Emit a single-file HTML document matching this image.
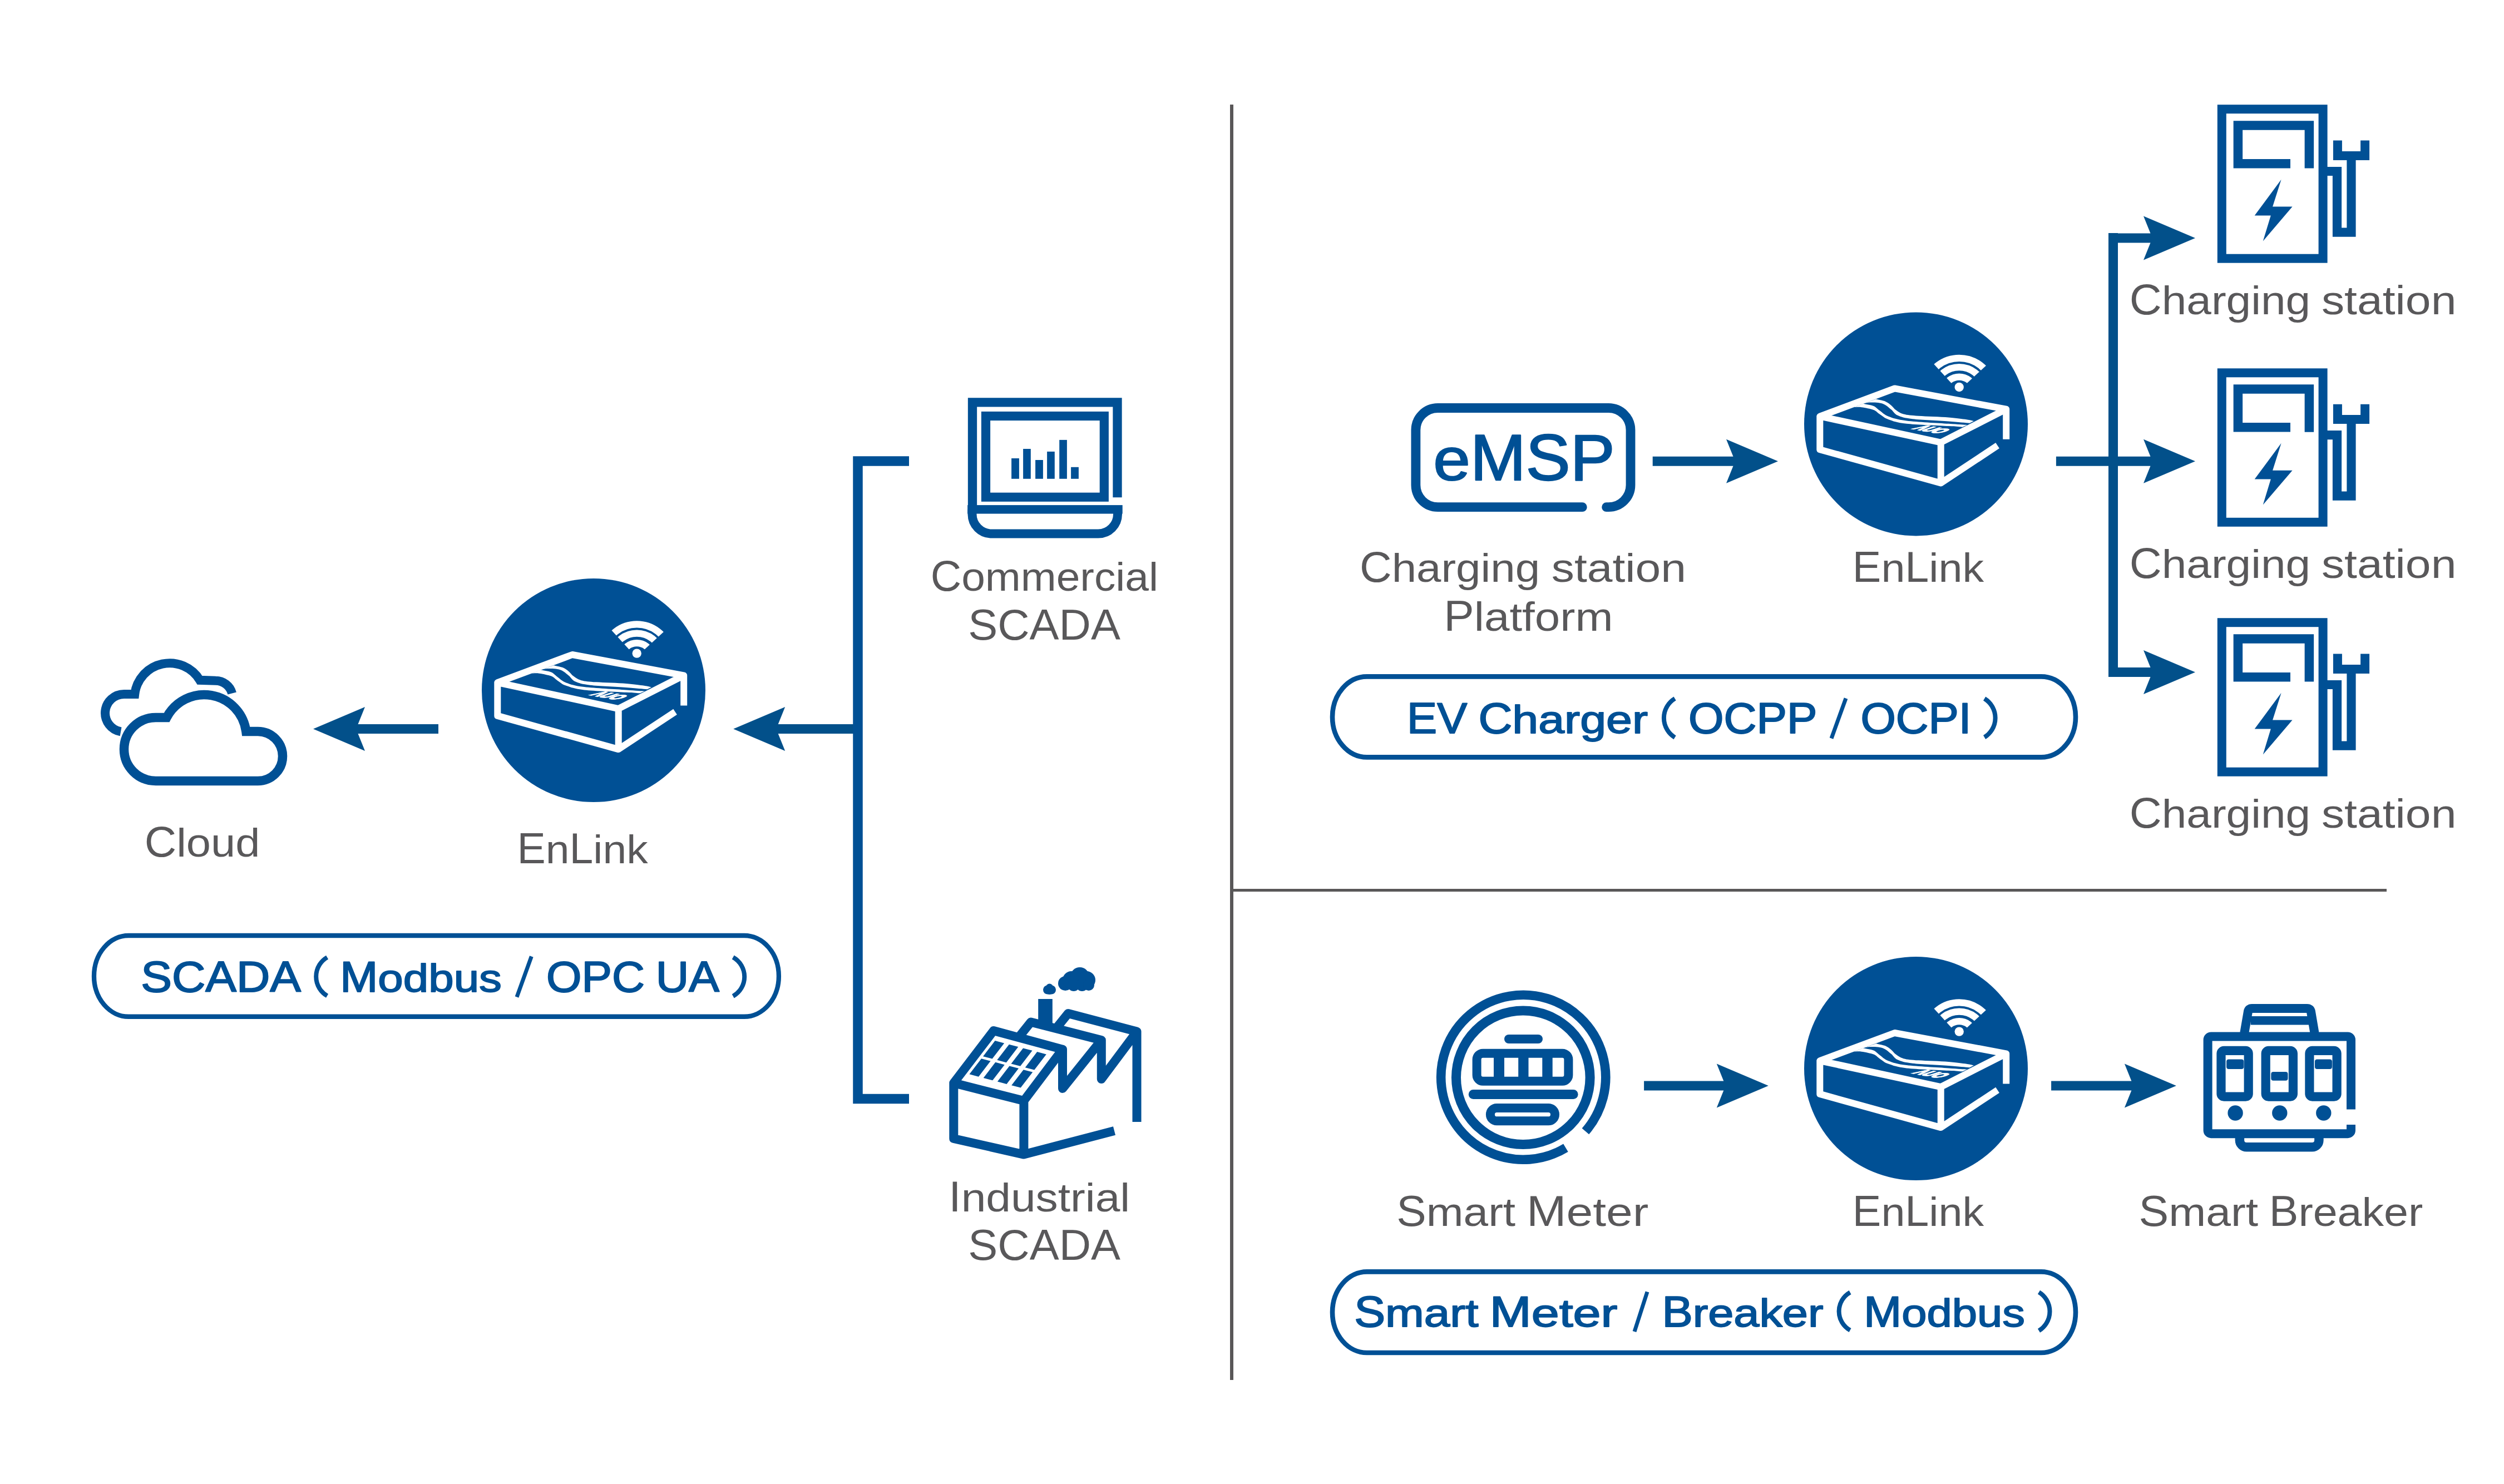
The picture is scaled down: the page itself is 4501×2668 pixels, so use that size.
<!DOCTYPE html><html><head><meta charset="utf-8"><style>html,body{margin:0;padding:0;background:#fff;overflow:hidden}svg{font-family:"Liberation Sans",sans-serif;font-kerning:none}</style></head><body><svg width="4501" height="2668" viewBox="0 0 4501 2668" style="display:block"><defs><clipPath id="wclip"><path d="M 76.50 -59.50 L -11.50 -155.70 L 170.50 -146.10 Z"/></clipPath></defs><rect x="2211" y="188" width="6" height="2293" fill="#595758"/>
<rect x="2217" y="1598" width="2073" height="5" fill="#595758"/>
<path d="M 788.00 1302.00 L 643.50 1302.00 L 656.00 1271.00 L 563.00 1310.50 L 656.00 1350.00 L 643.50 1319.00 L 788.00 1319.00 Z" fill="#02508a"/>
<path d="M 1542.00 1302.00 L 1398.70 1302.00 L 1411.20 1271.00 L 1318.20 1310.50 L 1411.20 1350.00 L 1398.70 1319.00 L 1542.00 1319.00 Z" fill="#02508a"/>
<path d="M 2970.70 820.80 L 3115.50 820.80 L 3103.00 789.80 L 3196.00 829.30 L 3103.00 868.80 L 3115.50 837.80 L 2970.70 837.80 L 2970.70 837.80 Z" fill="#02508a"/>
<path d="M 3695.90 820.80 L 3865.50 820.80 L 3853.00 789.80 L 3946.00 829.30 L 3853.00 868.80 L 3865.50 837.80 L 3695.90 837.80 L 3695.90 837.80 Z" fill="#02508a"/>
<path d="M 3799.00 419.40 L 3865.50 419.40 L 3853.00 388.40 L 3946.00 427.90 L 3853.00 467.40 L 3865.50 436.40 L 3799.00 436.40 L 3799.00 436.40 Z" fill="#02508a"/>
<path d="M 3799.00 1199.90 L 3865.50 1199.90 L 3853.00 1168.90 L 3946.00 1208.40 L 3853.00 1247.90 L 3865.50 1216.90 L 3799.00 1216.90 L 3799.00 1216.90 Z" fill="#02508a"/>
<rect x="3790" y="419" width="17" height="798" fill="#02508a"/>
<path d="M 2955.10 1943.40 L 3098.30 1943.40 L 3085.80 1912.40 L 3178.80 1951.90 L 3085.80 1991.40 L 3098.30 1960.40 L 2955.10 1960.40 L 2955.10 1960.40 Z" fill="#02508a"/>
<path d="M 3687.10 1943.40 L 3831.40 1943.40 L 3818.90 1912.40 L 3911.90 1951.90 L 3818.90 1991.40 L 3831.40 1960.40 L 3687.10 1960.40 L 3687.10 1960.40 Z" fill="#02508a"/>
<path d="M 1634 829 H 1542 V 1975.5 H 1634" fill="none" stroke="#005095" stroke-width="17.5" stroke-linejoin="miter"/>
<path d="M 280 1404 A 57 57 0 0 1 280 1290 L 299.54 1290 A 76 76 0 0 1 442.34 1315 L 463.5 1315 A 44.5 44.5 0 0 1 463.5 1404 Z" fill="none" stroke="#005095" stroke-width="16.5" stroke-linejoin="miter"/>
<path d="M 217.10 1315.48 A 34 34 0 0 1 223 1248 L 242.23 1248 A 63.2 63.2 0 0 1 359.17 1222.85 L 387.6 1223.8 A 30.6 30.6 0 0 1 417.16 1246.48" fill="none" stroke="#005095" stroke-width="16" stroke-linejoin="miter"/>
<g transform="translate(1067 1241)"><circle cx="0" cy="0" r="201" fill="#005095"/><path d="M -172.70 -13.90 L -38.30 -64.00 L 162.20 -26.70 L 44.70 33.10 Z M -172.70 -13.90 L -172.70 45.90 L 44.70 106.10 L 44.70 33.10 M 162.20 -26.70 L 162.20 27.40 M 44.70 106.10 L 146.60 38.70" fill="none" stroke="#fff" stroke-width="12" stroke-linejoin="round"/><path d="M -71.82 -44.83 C -68.94 -44.11 -59.24 -42.49 -54.56 -40.51 C -49.89 -38.54 -46.84 -35.48 -43.78 -32.96 C -40.73 -30.45 -39.83 -27.93 -36.23 -25.42 C -32.64 -22.90 -29.04 -19.67 -22.21 -17.87 C -15.39 -16.07 -8.74 -15.62 4.74 -14.63 C 18.22 -13.65 44.28 -13.02 58.66 -11.94 C 73.03 -10.86 83.46 -9.24 91.01 -8.16 C 98.55 -7.09 101.79 -5.92 103.94 -5.47 L 96.40 -1.69 C 90.11 -2.23 75.73 -3.67 58.66 -4.93 C 41.58 -6.19 9.24 -7.45 -6.04 -9.24 C -21.32 -11.04 -26.53 -12.84 -33.00 -15.71 C -39.47 -18.59 -40.37 -22.99 -44.86 -26.49 C -49.35 -30.00 -53.84 -34.67 -59.95 -36.74 C -66.06 -38.81 -75.68 -38.90 -81.52 -38.90 C -87.36 -38.90 -92.75 -37.10 -95.00 -36.74 Z" fill="#fff"/><path d="M -95.00 -36.74 C -91.85 -36.02 -81.07 -34.49 -76.13 -32.43 C -71.19 -30.36 -69.84 -27.48 -65.35 -24.34 C -60.85 -21.19 -57.26 -16.61 -49.17 -13.56 C -41.08 -10.50 -34.79 -8.16 -16.82 -6.01 C 1.15 -3.85 40.51 -1.87 58.66 -0.62 C 76.81 0.64 86.51 1.18 92.08 1.54 L 83.46 5.31 C 79.32 5.04 75.37 4.69 58.66 3.70 C 41.94 2.71 1.15 1.36 -16.82 -0.62 C -34.79 -2.59 -41.08 -5.29 -49.17 -8.16 C -57.26 -11.04 -60.85 -14.99 -65.35 -17.87 C -69.84 -20.74 -70.74 -23.35 -76.13 -25.42 C -81.52 -27.48 -91.76 -29.46 -97.69 -30.27 C -103.62 -31.08 -109.38 -30.27 -111.71 -30.27 Z" fill="#fff"/><text transform="matrix(1.12 0.2 -1.6 0.5 -7.20 8.60)" font-size="20" font-weight="bold" fill="#fff" stroke="#fff" stroke-width="2">ΛUO</text><path d="M 17.52 -72.42 A 62.30 62.30 0 0 1 137.88 -72.42 M 33.27 -68.21 A 46.00 46.00 0 0 1 122.13 -68.21 M 50.17 -63.68 A 28.50 28.50 0 0 1 105.23 -63.68" fill="none" stroke="#fff" stroke-width="12.3" clip-path="url(#wclip)"/><circle cx="77.70" cy="-66.40" r="8.2" fill="#fff"/></g>
<g transform="translate(3444 762.4)"><circle cx="0" cy="0" r="201" fill="#005095"/><path d="M -172.70 -13.90 L -38.30 -64.00 L 162.20 -26.70 L 44.70 33.10 Z M -172.70 -13.90 L -172.70 45.90 L 44.70 106.10 L 44.70 33.10 M 162.20 -26.70 L 162.20 27.40 M 44.70 106.10 L 146.60 38.70" fill="none" stroke="#fff" stroke-width="12" stroke-linejoin="round"/><path d="M -71.82 -44.83 C -68.94 -44.11 -59.24 -42.49 -54.56 -40.51 C -49.89 -38.54 -46.84 -35.48 -43.78 -32.96 C -40.73 -30.45 -39.83 -27.93 -36.23 -25.42 C -32.64 -22.90 -29.04 -19.67 -22.21 -17.87 C -15.39 -16.07 -8.74 -15.62 4.74 -14.63 C 18.22 -13.65 44.28 -13.02 58.66 -11.94 C 73.03 -10.86 83.46 -9.24 91.01 -8.16 C 98.55 -7.09 101.79 -5.92 103.94 -5.47 L 96.40 -1.69 C 90.11 -2.23 75.73 -3.67 58.66 -4.93 C 41.58 -6.19 9.24 -7.45 -6.04 -9.24 C -21.32 -11.04 -26.53 -12.84 -33.00 -15.71 C -39.47 -18.59 -40.37 -22.99 -44.86 -26.49 C -49.35 -30.00 -53.84 -34.67 -59.95 -36.74 C -66.06 -38.81 -75.68 -38.90 -81.52 -38.90 C -87.36 -38.90 -92.75 -37.10 -95.00 -36.74 Z" fill="#fff"/><path d="M -95.00 -36.74 C -91.85 -36.02 -81.07 -34.49 -76.13 -32.43 C -71.19 -30.36 -69.84 -27.48 -65.35 -24.34 C -60.85 -21.19 -57.26 -16.61 -49.17 -13.56 C -41.08 -10.50 -34.79 -8.16 -16.82 -6.01 C 1.15 -3.85 40.51 -1.87 58.66 -0.62 C 76.81 0.64 86.51 1.18 92.08 1.54 L 83.46 5.31 C 79.32 5.04 75.37 4.69 58.66 3.70 C 41.94 2.71 1.15 1.36 -16.82 -0.62 C -34.79 -2.59 -41.08 -5.29 -49.17 -8.16 C -57.26 -11.04 -60.85 -14.99 -65.35 -17.87 C -69.84 -20.74 -70.74 -23.35 -76.13 -25.42 C -81.52 -27.48 -91.76 -29.46 -97.69 -30.27 C -103.62 -31.08 -109.38 -30.27 -111.71 -30.27 Z" fill="#fff"/><text transform="matrix(1.12 0.2 -1.6 0.5 -7.20 8.60)" font-size="20" font-weight="bold" fill="#fff" stroke="#fff" stroke-width="2">ΛUO</text><path d="M 17.52 -72.42 A 62.30 62.30 0 0 1 137.88 -72.42 M 33.27 -68.21 A 46.00 46.00 0 0 1 122.13 -68.21 M 50.17 -63.68 A 28.50 28.50 0 0 1 105.23 -63.68" fill="none" stroke="#fff" stroke-width="12.3" clip-path="url(#wclip)"/><circle cx="77.70" cy="-66.40" r="8.2" fill="#fff"/></g>
<g transform="translate(3444 1921)"><circle cx="0" cy="0" r="201" fill="#005095"/><path d="M -172.70 -13.90 L -38.30 -64.00 L 162.20 -26.70 L 44.70 33.10 Z M -172.70 -13.90 L -172.70 45.90 L 44.70 106.10 L 44.70 33.10 M 162.20 -26.70 L 162.20 27.40 M 44.70 106.10 L 146.60 38.70" fill="none" stroke="#fff" stroke-width="12" stroke-linejoin="round"/><path d="M -71.82 -44.83 C -68.94 -44.11 -59.24 -42.49 -54.56 -40.51 C -49.89 -38.54 -46.84 -35.48 -43.78 -32.96 C -40.73 -30.45 -39.83 -27.93 -36.23 -25.42 C -32.64 -22.90 -29.04 -19.67 -22.21 -17.87 C -15.39 -16.07 -8.74 -15.62 4.74 -14.63 C 18.22 -13.65 44.28 -13.02 58.66 -11.94 C 73.03 -10.86 83.46 -9.24 91.01 -8.16 C 98.55 -7.09 101.79 -5.92 103.94 -5.47 L 96.40 -1.69 C 90.11 -2.23 75.73 -3.67 58.66 -4.93 C 41.58 -6.19 9.24 -7.45 -6.04 -9.24 C -21.32 -11.04 -26.53 -12.84 -33.00 -15.71 C -39.47 -18.59 -40.37 -22.99 -44.86 -26.49 C -49.35 -30.00 -53.84 -34.67 -59.95 -36.74 C -66.06 -38.81 -75.68 -38.90 -81.52 -38.90 C -87.36 -38.90 -92.75 -37.10 -95.00 -36.74 Z" fill="#fff"/><path d="M -95.00 -36.74 C -91.85 -36.02 -81.07 -34.49 -76.13 -32.43 C -71.19 -30.36 -69.84 -27.48 -65.35 -24.34 C -60.85 -21.19 -57.26 -16.61 -49.17 -13.56 C -41.08 -10.50 -34.79 -8.16 -16.82 -6.01 C 1.15 -3.85 40.51 -1.87 58.66 -0.62 C 76.81 0.64 86.51 1.18 92.08 1.54 L 83.46 5.31 C 79.32 5.04 75.37 4.69 58.66 3.70 C 41.94 2.71 1.15 1.36 -16.82 -0.62 C -34.79 -2.59 -41.08 -5.29 -49.17 -8.16 C -57.26 -11.04 -60.85 -14.99 -65.35 -17.87 C -69.84 -20.74 -70.74 -23.35 -76.13 -25.42 C -81.52 -27.48 -91.76 -29.46 -97.69 -30.27 C -103.62 -31.08 -109.38 -30.27 -111.71 -30.27 Z" fill="#fff"/><text transform="matrix(1.12 0.2 -1.6 0.5 -7.20 8.60)" font-size="20" font-weight="bold" fill="#fff" stroke="#fff" stroke-width="2">ΛUO</text><path d="M 17.52 -72.42 A 62.30 62.30 0 0 1 137.88 -72.42 M 33.27 -68.21 A 46.00 46.00 0 0 1 122.13 -68.21 M 50.17 -63.68 A 28.50 28.50 0 0 1 105.23 -63.68" fill="none" stroke="#fff" stroke-width="12.3" clip-path="url(#wclip)"/><circle cx="77.70" cy="-66.40" r="8.2" fill="#fff"/></g>
<path d="M 1748 923 V 723.4 H 2008.5 V 894.3" fill="none" stroke="#005095" stroke-width="16.3" stroke-linejoin="miter"/>
<rect x="1772" y="748" width="212.8" height="145.75" fill="none" stroke="#005095" stroke-width="16.2"/>
<rect x="1739.2" y="908.1" width="278.5" height="15.5" fill="#005095"/>
<path d="M 1747.5 916 V 924.5 A 35 35 0 0 0 1782.5 959.5 H 1974 A 35 35 0 0 0 2009 924.5 V 916" fill="none" stroke="#005095" stroke-width="16"/>
<rect x="1818.10" y="824.00" width="13.80" height="36.80" fill="#005095"/>
<rect x="1839.10" y="807.00" width="13.70" height="53.80" fill="#005095"/>
<rect x="1861.10" y="827.00" width="13.80" height="33.80" fill="#005095"/>
<rect x="1882.10" y="811.90" width="13.70" height="48.90" fill="#005095"/>
<rect x="1904.20" y="790.90" width="13.70" height="69.90" fill="#005095"/>
<rect x="1925.10" y="839.80" width="13.80" height="21.00" fill="#005095"/>
<path d="M 1840.40 1979.00 L 1910.00 1886.60 L 1910.00 1957.00 L 1979.80 1870.00 L 1979.80 1940.00 L 2043.50 1854.60 L 2043.50 2017.00 M 1898.30 1849.10 L 1920.00 1822.00 L 2043.50 1854.60 M 1831.00 1865.00 L 1853.00 1837.50 L 1979.80 1870.00 M 1910.00 1886.60 L 1786.00 1853.00 L 1714.30 1947.00 L 1840.40 1979.00 M 1714.30 1947.00 L 1714.30 2047.00 L 1840.40 2075.60 L 1840.40 1979.00 M 1840.40 2075.60 L 2003.00 2033.00" fill="none" stroke="#005095" stroke-width="16" stroke-linejoin="round"/>
<rect x="1866.2" y="1796" width="25.6" height="45" fill="#005095"/>
<circle cx="1886.50" cy="1775.00" r="6.50" fill="#005095"/>
<circle cx="1886.50" cy="1780.50" r="7.50" fill="#005095"/>
<circle cx="1883.00" cy="1779.50" r="8.00" fill="#005095"/>
<circle cx="1890.00" cy="1779.50" r="8.00" fill="#005095"/>
<circle cx="1915.00" cy="1768.00" r="13.00" fill="#005095"/>
<circle cx="1926.00" cy="1762.00" r="16.00" fill="#005095"/>
<circle cx="1941.00" cy="1756.00" r="17.00" fill="#005095"/>
<circle cx="1953.00" cy="1762.00" r="16.00" fill="#005095"/>
<circle cx="1930.00" cy="1771.00" r="11.00" fill="#005095"/>
<circle cx="1945.00" cy="1771.00" r="11.00" fill="#005095"/>
<circle cx="1957.00" cy="1771.00" r="10.00" fill="#005095"/>
<path d="M 1788.60 1871.10 L 1805.12 1875.45 L 1783.59 1903.57 L 1767.07 1899.21 Z" fill="#005095"/>
<path d="M 1764.03 1903.19 L 1780.55 1907.54 L 1759.02 1935.65 L 1742.50 1931.30 Z" fill="#005095"/>
<path d="M 1813.83 1877.75 L 1830.35 1882.10 L 1808.82 1910.22 L 1792.30 1905.86 Z" fill="#005095"/>
<path d="M 1789.26 1909.83 L 1805.78 1914.19 L 1784.25 1942.30 L 1767.73 1937.95 Z" fill="#005095"/>
<path d="M 1839.05 1884.40 L 1855.57 1888.75 L 1834.04 1916.87 L 1817.52 1912.51 Z" fill="#005095"/>
<path d="M 1814.48 1916.48 L 1831.00 1920.84 L 1809.47 1948.95 L 1792.95 1944.60 Z" fill="#005095"/>
<path d="M 1864.28 1891.05 L 1880.80 1895.40 L 1859.27 1923.51 L 1842.75 1919.16 Z" fill="#005095"/>
<path d="M 1839.71 1923.13 L 1856.23 1927.49 L 1834.70 1955.60 L 1818.18 1951.25 Z" fill="#005095"/>
<path d="M 2844.3 911.7 H 2584.5 A 39.6 39.6 0 0 1 2544.9 872.1 V 773.1 A 39.6 39.6 0 0 1 2584.5 733.5 H 2891.4 A 39.6 39.6 0 0 1 2931 773.1 V 872.1 A 39.6 39.6 0 0 1 2891.4 911.7 H 2887.6" fill="none" stroke="#005095" stroke-width="16.8" stroke-linecap="round"/>
<text transform="translate(2576.27 862.90) scale(1.0228 0.9200)" font-size="117.15" font-weight="normal" fill="#005095" stroke="#005095" stroke-width="2.40" stroke-linejoin="round">e</text><text transform="translate(2642.91 862.90) scale(1.0228 1.0000)" font-size="117.15" font-weight="normal" fill="#005095" stroke="#005095" stroke-width="2.40" stroke-linejoin="round">MSP</text>
<g><rect x="3993.8" y="196.2" width="181.8" height="268.5" fill="none" stroke="#005095" stroke-width="16"/><path d="M 4117 294.2 H 4022.9 V 225.4 H 4150.9 V 302.6" fill="none" stroke="#005095" stroke-width="16.5"/><path d="M 4100.6 322.7 L 4052.7 387.4 L 4081.8 387.4 L 4067.8 433.5 L 4120.6 371.6 L 4085.1 371.6 Z" fill="#005095"/><path d="M 4175 308 H 4201 V 417.6 H 4226.5 V 280" fill="none" stroke="#005095" stroke-width="16.2"/><path d="M 4201.9 252.6 V 279.9 H 4251.1 V 252.6" fill="none" stroke="#005095" stroke-width="16"/></g>
<g transform="translate(0 474.1)"><rect x="3993.8" y="196.2" width="181.8" height="268.5" fill="none" stroke="#005095" stroke-width="16"/><path d="M 4117 294.2 H 4022.9 V 225.4 H 4150.9 V 302.6" fill="none" stroke="#005095" stroke-width="16.5"/><path d="M 4100.6 322.7 L 4052.7 387.4 L 4081.8 387.4 L 4067.8 433.5 L 4120.6 371.6 L 4085.1 371.6 Z" fill="#005095"/><path d="M 4175 308 H 4201 V 417.6 H 4226.5 V 280" fill="none" stroke="#005095" stroke-width="16.2"/><path d="M 4201.9 252.6 V 279.9 H 4251.1 V 252.6" fill="none" stroke="#005095" stroke-width="16"/></g>
<g transform="translate(0 923)"><rect x="3993.8" y="196.2" width="181.8" height="268.5" fill="none" stroke="#005095" stroke-width="16"/><path d="M 4117 294.2 H 4022.9 V 225.4 H 4150.9 V 302.6" fill="none" stroke="#005095" stroke-width="16.5"/><path d="M 4100.6 322.7 L 4052.7 387.4 L 4081.8 387.4 L 4067.8 433.5 L 4120.6 371.6 L 4085.1 371.6 Z" fill="#005095"/><path d="M 4175 308 H 4201 V 417.6 H 4226.5 V 280" fill="none" stroke="#005095" stroke-width="16.2"/><path d="M 4201.9 252.6 V 279.9 H 4251.1 V 252.6" fill="none" stroke="#005095" stroke-width="16"/></g>
<path d="M 2814.43 2063.66 A 148.00 148.00 0 1 1 2849.90 2033.90" fill="none" stroke="#005095" stroke-width="16.6"/>
<circle cx="2737.8" cy="1937.3" r="120.3" fill="none" stroke="#005095" stroke-width="17"/>
<rect x="2654.6" y="1893.75" width="164.8" height="50.1" rx="11" fill="none" stroke="#005095" stroke-width="16"/>
<rect x="2685.00" y="1893" width="19.00" height="52" fill="#005095"/>
<rect x="2729.20" y="1893" width="18.30" height="52" fill="#005095"/>
<rect x="2772.30" y="1893" width="18.40" height="52" fill="#005095"/>
<rect x="2704" y="1859.9" width="69" height="16.1" rx="8" fill="#005095"/>
<rect x="2639.8" y="1959" width="196.8" height="16.9" rx="8.4" fill="#005095"/>
<rect x="2678.9" y="1992" width="116.1" height="23.3" rx="11.65" fill="none" stroke="#005095" stroke-width="16"/>
<path d="M 4226 1994.6 V 1869.5 A 6 6 0 0 0 4220 1863.5 H 3974.6 A 6 6 0 0 0 3968.6 1869.5 V 2032.2 A 6 6 0 0 0 3974.6 2038.2 H 4220 A 6 6 0 0 0 4226 2032.2 V 2021.9" fill="none" stroke="#005095" stroke-width="16"/>
<path d="M 4034.3 1857 L 4040.9 1818.8 Q 4041.9 1812.9 4047.9 1812.9 H 4147 Q 4153 1812.9 4154 1818.8 L 4160.5 1857" fill="none" stroke="#005095" stroke-width="16" stroke-linejoin="round"/>
<rect x="4045.7" y="1827" width="104.5" height="15.5" fill="#005095"/>
<path d="M 4025.9 2038 V 2050 A 12.3 12.3 0 0 0 4038.2 2062.3 H 4156.1 A 12.3 12.3 0 0 0 4168.4 2050 V 2038" fill="none" stroke="#005095" stroke-width="16.5"/>
<rect x="3992.50" y="1888.9" width="49.2" height="82.7" rx="5" fill="none" stroke="#005095" stroke-width="16.2"/>
<rect x="4072.70" y="1888.9" width="49.2" height="82.7" rx="5" fill="none" stroke="#005095" stroke-width="16.2"/>
<rect x="4151.40" y="1888.9" width="49.2" height="82.7" rx="5" fill="none" stroke="#005095" stroke-width="16.2"/>
<rect x="4002.10" y="1904.60" width="31.10" height="17.30" rx="4" fill="#005095"/>
<rect x="4082.30" y="1927.10" width="30.20" height="15.70" rx="4" fill="#005095"/>
<rect x="4161.00" y="1904.60" width="30.90" height="17.30" rx="4" fill="#005095"/>
<circle cx="4018.10" cy="2001" r="13.7" fill="#005095"/>
<circle cx="4097.80" cy="2001" r="13.7" fill="#005095"/>
<circle cx="4176.80" cy="2001" r="13.7" fill="#005095"/>
<rect x="169" y="1682" width="1230.9" height="145.75" rx="62" ry="72.9" fill="none" stroke="#005095" stroke-width="8.3"/>
<rect x="2395" y="1216.4" width="1336" height="145" rx="62" ry="72.5" fill="none" stroke="#005095" stroke-width="8.6"/>
<rect x="2395" y="2286.4" width="1336" height="145.6" rx="62" ry="72.8" fill="none" stroke="#005095" stroke-width="8.6"/>
<path d="M 588.10 1721.10 A 40.12 40.12 0 0 0 588.10 1790.40" fill="none" stroke="#005095" stroke-width="8"/>
<path d="M 1317.70 1721.00 A 40.13 40.13 0 0 1 1317.70 1791.00" fill="none" stroke="#005095" stroke-width="8"/>
<line x1="955.30" y1="1719.50" x2="929.00" y2="1792.50" stroke="#005095" stroke-width="7"/>
<path d="M 3010.60 1255.90 A 40.85 40.85 0 0 0 3010.60 1325.80" fill="none" stroke="#005095" stroke-width="8"/>
<path d="M 3567.10 1256.00 A 40.71 40.71 0 0 1 3567.10 1325.50" fill="none" stroke="#005095" stroke-width="8"/>
<line x1="3318.00" y1="1255.50" x2="3292.00" y2="1327.50" stroke="#005095" stroke-width="7"/>
<path d="M 3325.60 2323.40 A 39.07 39.07 0 0 0 3325.60 2391.60" fill="none" stroke="#005095" stroke-width="8"/>
<path d="M 3665.00 2323.20 A 40.45 40.45 0 0 1 3665.00 2392.40" fill="none" stroke="#005095" stroke-width="8"/>
<line x1="2961.00" y1="2322.50" x2="2938.00" y2="2394.00" stroke="#005095" stroke-width="7"/>
<text transform="translate(253.16 1783.00) scale(1.0845 1.0000)" font-size="77.03" font-weight="normal" fill="#005095" stroke="#005095" stroke-width="2.00" stroke-linejoin="round">SCADA</text>
<text transform="translate(611.20 1783.30) scale(1.0611 1.0000)" font-size="77.03" font-weight="normal" fill="#005095" stroke="#005095" stroke-width="2.00" stroke-linejoin="round">M</text><text transform="translate(679.29 1783.30) scale(1.0611 0.9200)" font-size="77.03" font-weight="normal" fill="#005095" stroke="#005095" stroke-width="2.00" stroke-linejoin="round">odbus</text>
<text transform="translate(981.96 1783.00) scale(1.0599 1.0000)" font-size="77.03" font-weight="normal" fill="#005095" stroke="#005095" stroke-width="2.00" stroke-linejoin="round">OPC</text>
<text transform="translate(1178.66 1782.80) scale(1.0692 1.0000)" font-size="77.03" font-weight="normal" fill="#005095" stroke="#005095" stroke-width="2.00" stroke-linejoin="round">UA</text>
<text transform="translate(2529.05 1318.00) scale(1.0535 1.0000)" font-size="77.03" font-weight="normal" fill="#005095" stroke="#005095" stroke-width="2.00" stroke-linejoin="round">EV</text>
<text transform="translate(2657.50 1318.00) scale(1.0942 1.0000)" font-size="77.03" font-weight="normal" fill="#005095" stroke="#005095" stroke-width="2.00" stroke-linejoin="round">C</text><text transform="translate(2718.37 1318.00) scale(1.0942 0.9200)" font-size="77.03" font-weight="normal" fill="#005095" stroke="#005095" stroke-width="2.00" stroke-linejoin="round">harger</text>
<text transform="translate(3034.96 1318.00) scale(1.0602 1.0000)" font-size="77.03" font-weight="normal" fill="#005095" stroke="#005095" stroke-width="2.00" stroke-linejoin="round">OCPP</text>
<text transform="translate(3344.47 1318.00) scale(1.0566 1.0000)" font-size="77.03" font-weight="normal" fill="#005095" stroke="#005095" stroke-width="2.00" stroke-linejoin="round">OCPI</text>
<text transform="translate(2434.25 2385.30) scale(1.0866 1.0000)" font-size="77.03" font-weight="normal" fill="#005095" stroke="#005095" stroke-width="2.00" stroke-linejoin="round">S</text><text transform="translate(2490.08 2385.30) scale(1.0866 0.9200)" font-size="77.03" font-weight="normal" fill="#005095" stroke="#005095" stroke-width="2.00" stroke-linejoin="round">mart</text>
<text transform="translate(2677.83 2385.30) scale(1.1666 1.0000)" font-size="77.03" font-weight="normal" fill="#005095" stroke="#005095" stroke-width="2.00" stroke-linejoin="round">M</text><text transform="translate(2752.69 2385.30) scale(1.1666 0.9200)" font-size="77.03" font-weight="normal" fill="#005095" stroke="#005095" stroke-width="2.00" stroke-linejoin="round">eter</text>
<text transform="translate(2987.41 2385.00) scale(1.0757 1.0000)" font-size="77.03" font-weight="normal" fill="#005095" stroke="#005095" stroke-width="2.00" stroke-linejoin="round">B</text><text transform="translate(3042.67 2385.00) scale(1.0757 0.9200)" font-size="77.03" font-weight="normal" fill="#005095" stroke="#005095" stroke-width="2.00" stroke-linejoin="round">reaker</text>
<text transform="translate(3350.33 2385.10) scale(1.0566 1.0000)" font-size="77.03" font-weight="normal" fill="#005095" stroke="#005095" stroke-width="2.00" stroke-linejoin="round">M</text><text transform="translate(3418.13 2385.10) scale(1.0566 0.9200)" font-size="77.03" font-weight="normal" fill="#005095" stroke="#005095" stroke-width="2.00" stroke-linejoin="round">odbus</text>
<text transform="translate(259.75 1539.70) scale(1.0129 1.0000)" font-size="78.49" font-weight="normal" fill="#59585a">C</text><text transform="translate(317.16 1539.70) scale(1.0129 0.9200)" font-size="78.49" font-weight="normal" fill="#59585a">loud</text>
<text transform="translate(929.60 1552.00) scale(0.9792 1.0000)" font-size="78.49" font-weight="normal" fill="#59585a">E</text><text transform="translate(980.86 1552.00) scale(0.9792 0.9200)" font-size="78.49" font-weight="normal" fill="#59585a">n</text><text transform="translate(1023.60 1552.00) scale(0.9792 1.0000)" font-size="78.49" font-weight="normal" fill="#59585a">L</text><text transform="translate(1066.35 1552.00) scale(0.9792 0.9200)" font-size="78.49" font-weight="normal" fill="#59585a">ink</text>
<text transform="translate(1672.79 1061.70) scale(0.9775 1.0000)" font-size="78.49" font-weight="normal" fill="#59585a">C</text><text transform="translate(1728.20 1061.70) scale(0.9775 0.9200)" font-size="78.49" font-weight="normal" fill="#59585a">ommercial</text>
<text transform="translate(1740.14 1149.90) scale(1.0127 1.0000)" font-size="78.49" font-weight="normal" fill="#59585a">SCADA</text>
<text transform="translate(1705.31 2178.00) scale(1.0234 1.0000)" font-size="78.49" font-weight="normal" fill="#59585a">I</text><text transform="translate(1727.63 2178.00) scale(1.0234 0.9200)" font-size="78.49" font-weight="normal" fill="#59585a">ndustrial</text>
<text transform="translate(1740.24 2264.50) scale(1.0127 1.0000)" font-size="78.49" font-weight="normal" fill="#59585a">SCADA</text>
<text transform="translate(2444.03 1045.90) scale(1.0175 1.0000)" font-size="78.49" font-weight="normal" fill="#59585a">C</text><text transform="translate(2501.70 1045.90) scale(1.0175 0.9200)" font-size="78.49" font-weight="normal" fill="#59585a">harging</text>
<text transform="translate(2788.80 1045.90) scale(1.0477 0.9200)" font-size="78.49" font-weight="normal" fill="#59585a">station</text>
<text transform="translate(2595.30 1133.60) scale(1.0410 1.0000)" font-size="78.49" font-weight="normal" fill="#59585a">P</text><text transform="translate(2649.80 1133.60) scale(1.0410 0.9200)" font-size="78.49" font-weight="normal" fill="#59585a">latform</text>
<text transform="translate(3329.86 1045.80) scale(0.9843 1.0000)" font-size="78.49" font-weight="normal" fill="#59585a">E</text><text transform="translate(3381.40 1045.80) scale(0.9843 0.9200)" font-size="78.49" font-weight="normal" fill="#59585a">n</text><text transform="translate(3424.36 1045.80) scale(0.9843 1.0000)" font-size="78.49" font-weight="normal" fill="#59585a">L</text><text transform="translate(3467.33 1045.80) scale(0.9843 0.9200)" font-size="78.49" font-weight="normal" fill="#59585a">ink</text>
<text transform="translate(3827.81 564.90) scale(1.0217 1.0000)" font-size="78.49" font-weight="normal" fill="#59585a">C</text><text transform="translate(3885.72 564.90) scale(1.0217 0.9200)" font-size="78.49" font-weight="normal" fill="#59585a">harging</text>
<text transform="translate(4172.89 564.90) scale(1.0490 0.9200)" font-size="78.49" font-weight="normal" fill="#59585a">station</text>
<text transform="translate(3827.81 1038.70) scale(1.0217 1.0000)" font-size="78.49" font-weight="normal" fill="#59585a">C</text><text transform="translate(3885.72 1038.70) scale(1.0217 0.9200)" font-size="78.49" font-weight="normal" fill="#59585a">harging</text>
<text transform="translate(4172.89 1038.70) scale(1.0490 0.9200)" font-size="78.49" font-weight="normal" fill="#59585a">station</text>
<text transform="translate(3827.81 1487.70) scale(1.0217 1.0000)" font-size="78.49" font-weight="normal" fill="#59585a">C</text><text transform="translate(3885.72 1487.70) scale(1.0217 0.9200)" font-size="78.49" font-weight="normal" fill="#59585a">harging</text>
<text transform="translate(4172.89 1487.70) scale(1.0490 0.9200)" font-size="78.49" font-weight="normal" fill="#59585a">station</text>
<text transform="translate(2510.31 2203.90) scale(1.0216 1.0000)" font-size="78.49" font-weight="normal" fill="#59585a">S</text><text transform="translate(2563.79 2203.90) scale(1.0216 0.9200)" font-size="78.49" font-weight="normal" fill="#59585a">mart</text>
<text transform="translate(2743.96 2203.90) scale(1.0936 1.0000)" font-size="78.49" font-weight="normal" fill="#59585a">M</text><text transform="translate(2815.46 2203.90) scale(1.0936 0.9200)" font-size="78.49" font-weight="normal" fill="#59585a">eter</text>
<text transform="translate(3329.86 2203.90) scale(0.9843 1.0000)" font-size="78.49" font-weight="normal" fill="#59585a">E</text><text transform="translate(3381.40 2203.90) scale(0.9843 0.9200)" font-size="78.49" font-weight="normal" fill="#59585a">n</text><text transform="translate(3424.36 2203.90) scale(0.9843 1.0000)" font-size="78.49" font-weight="normal" fill="#59585a">L</text><text transform="translate(3467.33 2203.90) scale(0.9843 0.9200)" font-size="78.49" font-weight="normal" fill="#59585a">ink</text>
<text transform="translate(3844.60 2203.90) scale(1.0250 1.0000)" font-size="78.49" font-weight="normal" fill="#59585a">S</text><text transform="translate(3898.26 2203.90) scale(1.0250 0.9200)" font-size="78.49" font-weight="normal" fill="#59585a">mart</text>
<text transform="translate(4078.72 2203.90) scale(1.0063 1.0000)" font-size="78.49" font-weight="normal" fill="#59585a">B</text><text transform="translate(4131.41 2203.90) scale(1.0063 0.9200)" font-size="78.49" font-weight="normal" fill="#59585a">reaker</text></svg></body></html>
